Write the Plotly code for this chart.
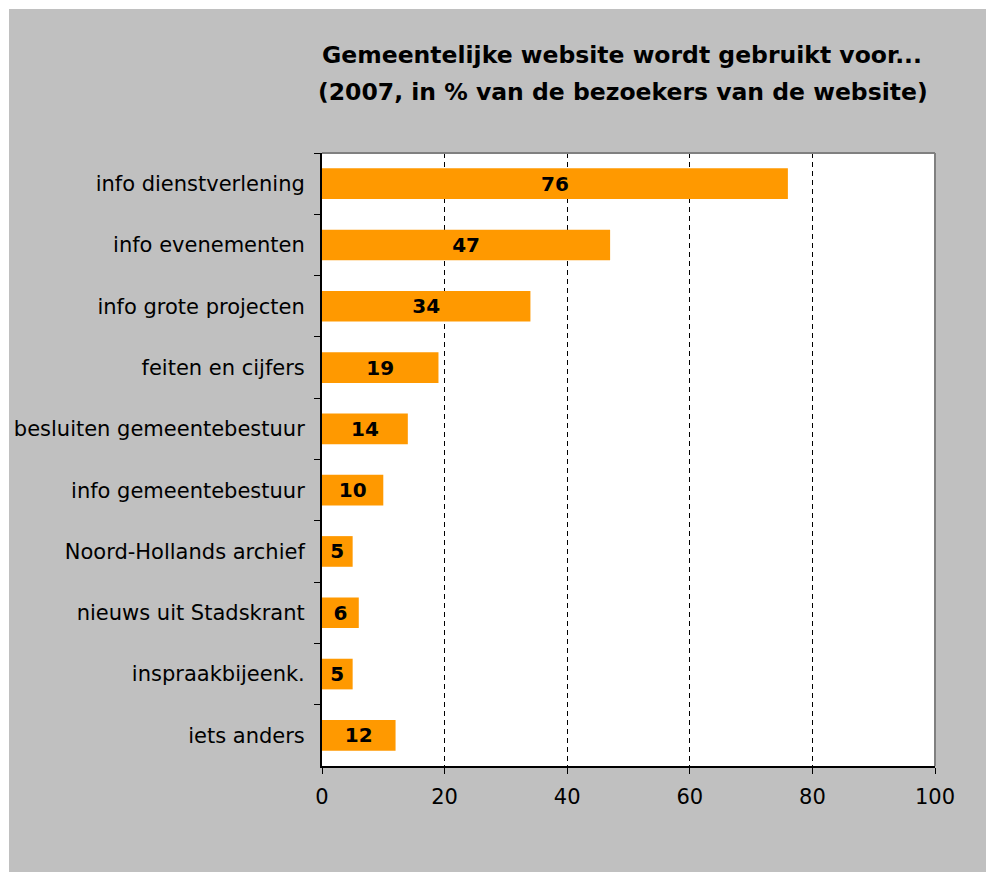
import plotly.graph_objects as go

# categories and percentages, top to bottom as in the chart
categories = [
    "info dienstverlening",
    "info evenementen",
    "info grote projecten",
    "feiten en cijfers",
    "besluiten gemeentebestuur",
    "info gemeentebestuur",
    "Noord-Hollands archief",
    "nieuws uit Stadskrant",
    "inspraakbijeenk.",
    "iets anders",
]
values = [76, 47, 34, 19, 14, 10, 5, 6, 5, 12]
x_ticks = [0, 20, 40, 60, 80, 100]

title_lines = [
    "Gemeentelijke website wordt gebruikt voor...",
    "(2007, in % van de bezoekers van de website)",
]

font = "DejaVu Sans, Verdana, sans-serif"

fig = go.Figure()

fig.add_trace(go.Bar(
    x=values, y=categories, orientation="h",
    marker=dict(color="#FF9900", line=dict(width=0)),
    width=0.5,
    text=[f"<b>{v}</b>" for v in values],
    textposition="inside", insidetextanchor="middle", textangle=0,
    constraintext="none",
    textfont=dict(family=font, size=20, color="black"),
    hoverinfo="skip",
))

# page keeps a white edge only at top/left; figure fills the rest of the window
fig.update_layout(
    width=977, height=863,
    margin=dict(l=313, r=51, t=144, b=106),
    paper_bgcolor="#C0C0C0",
    plot_bgcolor="white",
    font=dict(family=font, size=21, color="black"),
    showlegend=False,
    xaxis=dict(
        range=[0, 100], tickvals=x_ticks, automargin=False,
        showgrid=True, gridcolor="black", gridwidth=1, griddash="5px,4px",
        showline=True, linecolor="black", linewidth=2,
        ticks="outside", ticklen=6, tickcolor="black", tickwidth=1,
        ticklabelstandoff=5,
        zeroline=False, fixedrange=True,
        tickfont=dict(size=21),
    ),
    yaxis=dict(
        autorange="reversed", type="category", automargin=False,
        showgrid=False, showline=True, linecolor="black", linewidth=2,
        ticks="outside", ticklen=6, tickcolor="black", tickwidth=1,
        tickson="boundaries", ticklabelstandoff=11,
        tickfont=dict(size=21),
    ),
    annotations=[
        dict(text=f"<b>{title_lines[0]}</b>", xref="paper", yref="paper",
             x=0.4886, y=1.160, xanchor="center", yanchor="middle",
             showarrow=False, font=dict(family=font, size=23.5, color="black")),
        dict(text=f"<b>{title_lines[1]}</b>", xref="paper", yref="paper",
             x=0.491, y=1.0995, xanchor="center", yanchor="middle",
             showarrow=False, font=dict(family=font, size=23.5, color="black")),
    ],
    shapes=[
        # grey frame on top and right of plot area
        dict(type="line", xref="paper", yref="paper", x0=0, x1=1, y0=1, y1=1,
             line=dict(color="#808080", width=2), layer="above"),
        dict(type="line", xref="paper", yref="paper", x0=1, x1=1, y0=0, y1=1,
             line=dict(color="#808080", width=2), layer="above"),
    ],
)

fig.write_html("out.html", post_script="document.body.style.margin='9px 0 0 9px';")
